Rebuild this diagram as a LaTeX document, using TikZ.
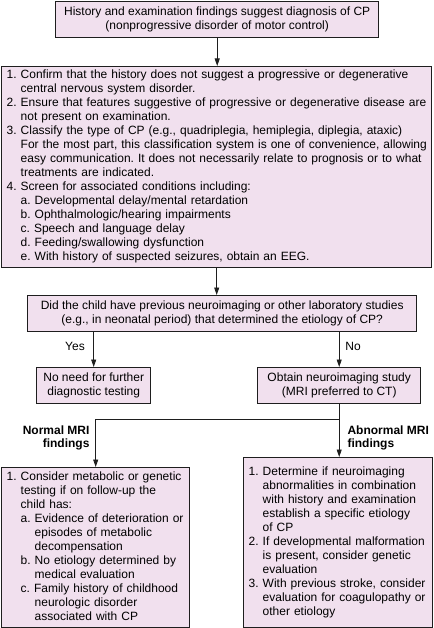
\documentclass[tikz,border=0pt]{standalone}
\usepackage{fontspec}
\setmainfont{Liberation Sans}
\usetikzlibrary{arrows.meta,calc}
\definecolor{boxfill}{RGB}{241,224,238}
\definecolor{boxline}{RGB}{30,30,30}
\newcommand\ind{\hphantom{1.\ }}
\newcommand\inda{\hphantom{a.\ }}
\newenvironment{lines}{\begin{tabular}{@{}l@{}}}{\end{tabular}}
\frenchspacing
\begin{document}
\begin{tikzpicture}[x=1pt,y=-1pt,
  box/.style={draw=boxline, fill=boxfill, line width=1.4pt, inner xsep=5pt, inner ysep=2pt,
    font=\frenchspacing\fontsize{12}{14}\selectfont, anchor=north west},
  cbox/.style={box, align=center},
  lbox/.style={box, align=left},
  arr/.style={line width=0.9pt, draw=boxline, -{Triangle[length=7.5pt,width=5pt]}},
  ln/.style={line width=0.9pt, draw=boxline},
  lab/.style={font=\fontsize{12}{13}\selectfont},
  blab/.style={font=\bfseries\fontsize{12}{12.6}\selectfont}]
\useasboundingbox (0,0) rectangle (433,628);

\node[cbox, minimum width=323pt, minimum height=36pt] (b1) at (55,1)
 {History and examination findings suggest diagnosis of CP\\(nonprogressive disorder of motor control)};

\node[lbox, text width=420pt, minimum height=201pt] (b2) at (1,66)
 {\begin{lines}
 1. Confirm that the history does not suggest a progressive or degenerative\\
 \ind central nervous system disorder.\\
 2. Ensure that features suggestive of progressive or degenerative disease are\\
 \ind not present on examination.\\
 3. Classify the type of CP (e.g., quadriplegia, hemiplegia, diplegia, ataxic)\\
 \ind For the most part, this classification system is one of convenience, allowing\\
 \ind easy communication. It does not necessarily relate to prognosis or to what\\
 \ind treatments are indicated.\\
 4. Screen for associated conditions including:\\
 \ind a. Developmental delay/mental retardation\\
 \ind b. Ophthalmologic/hearing impairments\\
 \ind c. Speech and language delay\\
 \ind d. Feeding/swallowing dysfunction\\
 \ind e. With history of suspected seizures, obtain an EEG.
 \end{lines}};

\node[cbox, minimum width=389pt, minimum height=36pt] (b3) at (27,295)
 {Did the child have previous neuroimaging or other laboratory studies\\(e.g., in neonatal period) that determined the etiology of CP?};

\node[cbox, minimum width=114pt, minimum height=36pt] (b4) at (36,367)
 {No need for further\\diagnostic testing};

\node[cbox, minimum width=163pt, minimum height=36pt] (b5) at (257,367)
 {Obtain neuroimaging study\\(MRI preferred to CT)};

\node[lbox, text width=178pt, minimum height=160pt] (b6) at (1,467)
 {\begin{lines}
 1. Consider metabolic or genetic\\
 \ind testing if on follow-up the\\
 \ind child has:\\
 \ind a. Evidence of deterioration or\\
 \ind\inda episodes of metabolic\\
 \ind\inda decompensation\\
 \ind b. No etiology determined by\\
 \ind\inda medical evaluation\\
 \ind c. Family history of childhood\\
 \ind\inda neurologic disorder\\
 \ind\inda associated with CP
 \end{lines}};

\node[lbox, text width=179pt, minimum height=170pt] (b7) at (243,457)
 {\begin{lines}
 1. Determine if neuroimaging\\
 \ind abnormalities in combination\\
 \ind with history and examination\\
 \ind establish a specific etiology\\
 \ind of CP\\
 2. If developmental malformation\\
 \ind is present, consider genetic\\
 \ind evaluation\\
 3. With previous stroke, consider\\
 \ind evaluation for coagulopathy or\\
 \ind other etiology
 \end{lines}};

\draw[arr] (b1.south) -- (b1.south |- b2.north);
\draw[arr] (b2.south) -- (b2.south |- b3.north);
\draw[arr] (b4.north |- b3.south) -- (b4.north);
\draw[arr] (b5.north |- b3.south) -- (b5.north);
\draw[ln] (b5.south) -- ++(0,15) coordinate (j);
\draw[arr] (j) -| (b6.north);
\draw[arr] (j) -- (j |- b7.north);

\node[lab] (yes) at (75,346) {Yes};
\node[lab] (no) at (353,346) {No};
\node[blab, align=right, anchor=east] (nm) at (93,438) {Normal MRI\\findings};
\node[blab, align=left, anchor=west] (am) at (344,438) {Abnormal MRI\\findings};
\end{tikzpicture}
\end{document}
